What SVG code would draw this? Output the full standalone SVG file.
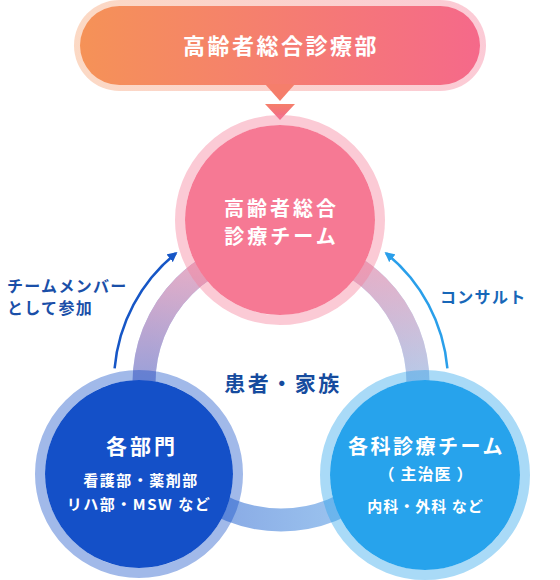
<svg xmlns="http://www.w3.org/2000/svg" width="560" height="580" viewBox="0 0 560 580">
<style>
.t{font-family:"Noto Sans CJK JP","Noto Sans",sans-serif;font-weight:700;dominant-baseline:central}
.w{fill:#fff}
.c{text-anchor:middle}
.lbl{font-size:16px;letter-spacing:1.3px}
</style>
<defs>
<linearGradient id="pill" x1="0" x2="1" y1="0" y2="0">
<stop offset="0" stop-color="#f59257"/>
<stop offset="1" stop-color="#f5698a"/>
</linearGradient>
<linearGradient id="tri" x1="0" x2="0" y1="0" y2="1">
<stop offset="0" stop-color="#f57f6a"/>
<stop offset="1" stop-color="#f2688e"/>
</linearGradient>
<linearGradient id="ringH" gradientUnits="userSpaceOnUse" x1="150" y1="0" x2="420" y2="0">
<stop offset="0" stop-color="#7f9ce0"/>
<stop offset="1" stop-color="#a6d3f4"/>
</linearGradient>
<linearGradient id="ringV" gradientUnits="userSpaceOnUse" x1="0" y1="250" x2="0" y2="420">
<stop offset="0" stop-color="#eeaec4" stop-opacity="1"/>
<stop offset="1" stop-color="#eeaec4" stop-opacity="0"/>
</linearGradient>
<marker id="ahL" viewBox="0 0 10 10" refX="8" refY="5" markerWidth="10" markerHeight="10" markerUnits="userSpaceOnUse" orient="auto">
<path d="M0,0 L10,5 L0,10 z" fill="#1656c6"/>
</marker>
<marker id="ahR" viewBox="0 0 10 10" refX="8" refY="5" markerWidth="10" markerHeight="10" markerUnits="userSpaceOnUse" orient="auto">
<path d="M0,0 L10,5 L0,10 z" fill="#2a9fea"/>
</marker>
</defs>

<g id="connectors">
<circle cx="281" cy="383" r="137" fill="none" stroke="url(#ringH)" stroke-width="23"/>
<circle cx="281" cy="383" r="137" fill="none" stroke="url(#ringV)" stroke-width="23"/>
<path d="M114.6,368.4 A167,167 0 0 1 175.9,253.2" fill="none" stroke="#1656c6" stroke-width="2.5" marker-end="url(#ahL)"/>
<path d="M447.4,368.4 A167,167 0 0 0 386.1,253.2" fill="none" stroke="#2a9fea" stroke-width="2.5" marker-end="url(#ahR)"/>
<path d="M265,104 L295,104 L280,120 z" fill="url(#tri)"/>
</g>

<g id="labels">
<text class="t lbl" x="7" y="285" fill="#1a4fa8">チームメンバー</text>
<text class="t lbl" x="7" y="307" fill="#1a4fa8">として参加</text>
<text class="t lbl" x="440" y="296" fill="#1767b8">コンサルト</text>
<text class="t c" x="283" y="382" font-size="21" letter-spacing="2.5" fill="#154b9e">患者・家族</text>
</g>

<g id="header">
<rect x="74" y="0" width="412" height="91" rx="45.5" fill="url(#pill)" opacity="0.35"/>
<rect x="80" y="6" width="400" height="79" rx="39.5" fill="url(#pill)"/>
<path d="M265,84 L295,84 L280,101 z" fill="#f57e6b"/>
<text class="t w c" x="281" y="44" font-size="22" letter-spacing="2.5">高齢者総合診療部</text>
</g>

<g id="team">
<circle cx="280" cy="220" r="100" fill="none" stroke="#f57a95" stroke-opacity="0.4" stroke-width="10"/>
<circle cx="280" cy="220" r="95" fill="#f67994"/>
<text class="t w c" x="281.5" y="207" font-size="20" letter-spacing="3">高齢者総合</text>
<text class="t w c" x="281.5" y="235" font-size="20" letter-spacing="3">診療チーム</text>
</g>

<g id="departments">
<circle cx="139" cy="474" r="99" fill="none" stroke="#1450c8" stroke-opacity="0.4" stroke-width="10"/>
<circle cx="139" cy="474" r="94" fill="#1450c8"/>
<text class="t w c" x="142" y="445" font-size="21" letter-spacing="3">各部門</text>
<text class="t w c" x="141" y="479" font-size="15" letter-spacing="1.5">看護部・薬剤部</text>
<text class="t w c" x="139" y="503" font-size="15" letter-spacing="1.5">リハ部・MSW など</text>
</g>

<g id="specialists">
<circle cx="425" cy="475" r="100" fill="none" stroke="#27a3ec" stroke-opacity="0.4" stroke-width="10"/>
<circle cx="425" cy="475" r="95" fill="#27a3ec"/>
<text class="t w c" x="426.5" y="445" font-size="20" letter-spacing="2.5">各科診療チーム</text>
<text class="t w c" x="426" y="473" font-size="16" letter-spacing="1">（<tspan dx="5">主治医</tspan><tspan dx="5">）</tspan></text>
<text class="t w c" x="425.5" y="505" font-size="15" letter-spacing="1">内科・外科 など</text>
</g>
</svg>
